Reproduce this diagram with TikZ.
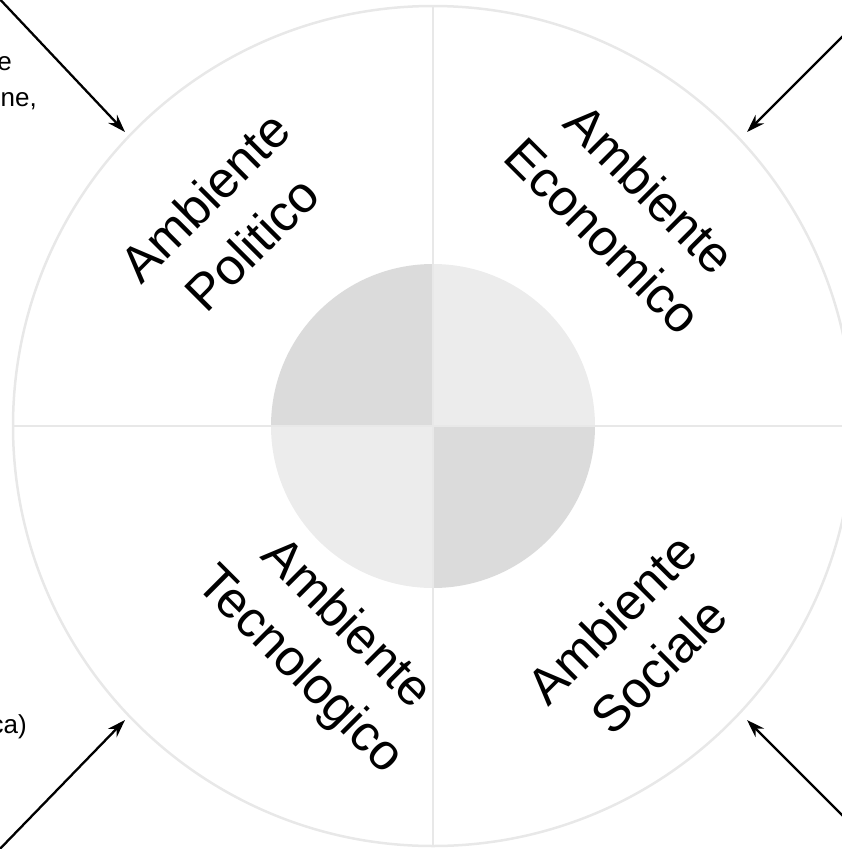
\documentclass[tikz,border=0pt]{standalone}
\usepackage{fontspec}
\setmainfont{Liberation Sans}
\usetikzlibrary{arrows.meta,positioning}
\definecolor{ringgray}{gray}{0.91}
\definecolor{darkq}{gray}{0.86}
\definecolor{lightq}{gray}{0.925}
\tikzstyle{ambiente} = [align=center, font=\fontsize{51}{66}\selectfont,
    inner sep=0pt]
\tikzstyle{frag} = [anchor=base east, font=\fontsize{26}{30}\selectfont,
    inner sep=0pt]
\tikzstyle{pfeil} = [-{Stealth[length=18pt,width=12pt]}, line width=2.3pt]

\begin{document}
\begin{tikzpicture}[x=1pt, y=-1pt]
  \useasboundingbox (0,0) rectangle (842,849);
  \coordinate (c) at (433,426);
  % centre disc, four quarters
  \fill[darkq] (c) -- ++(180:162) arc[start angle=180, end angle=270, radius=162] -- cycle;
  \fill[lightq] (c) -- ++(270:162) arc[start angle=270, end angle=360, radius=162] -- cycle;
  \fill[darkq] (c) -- ++(0:162) arc[start angle=0, end angle=90, radius=162] -- cycle;
  \fill[lightq] (c) -- ++(90:162) arc[start angle=90, end angle=180, radius=162] -- cycle;
  % ring and cross
  \draw[ringgray, line width=2.5pt] (c) circle[radius=420];
  \draw[ringgray, line width=2.5pt] (c) ++(0,-420) -- ++(0,840);
  \draw[ringgray, line width=2.5pt] (c) ++(-420,0) -- (842,426);
  % labels
  \node[ambiente, rotate=45] (politico) at (228,220) {Ambiente\\Politico};
  \node[ambiente, rotate=-45] (economico) at (627,212) {Ambiente\\Economico};
  \node[ambiente, rotate=-45] (tecnologico) at (322,648) {Ambiente\\Tecnologico};
  \node[ambiente, rotate=45] (sociale) at (635,642) {Ambiente\\Sociale};
  % text cut at the margin
  \node[frag] (f1) at (12,70) {e};
  \node[frag] (f2) at (37,106) {ne,};
  \node[frag] (f3) at (27,733) {ca)};
  % arrows from outside
  \coordinate (tl) at (-6,-7);
  \coordinate (tl tip) at (125,132);
  \coordinate (tr) at (852,27);
  \coordinate (tr tip) at (747,132);
  \coordinate (bl) at (-6,855);
  \coordinate (bl tip) at (125,720);
  \coordinate (br) at (852,825);
  \coordinate (br tip) at (747,720);
  \draw[pfeil] (tl) -- (tl tip);
  \draw[pfeil] (tr) -- (tr tip);
  \draw[pfeil] (bl) -- (bl tip);
  \draw[pfeil] (br) -- (br tip);
\end{tikzpicture}
\end{document}
